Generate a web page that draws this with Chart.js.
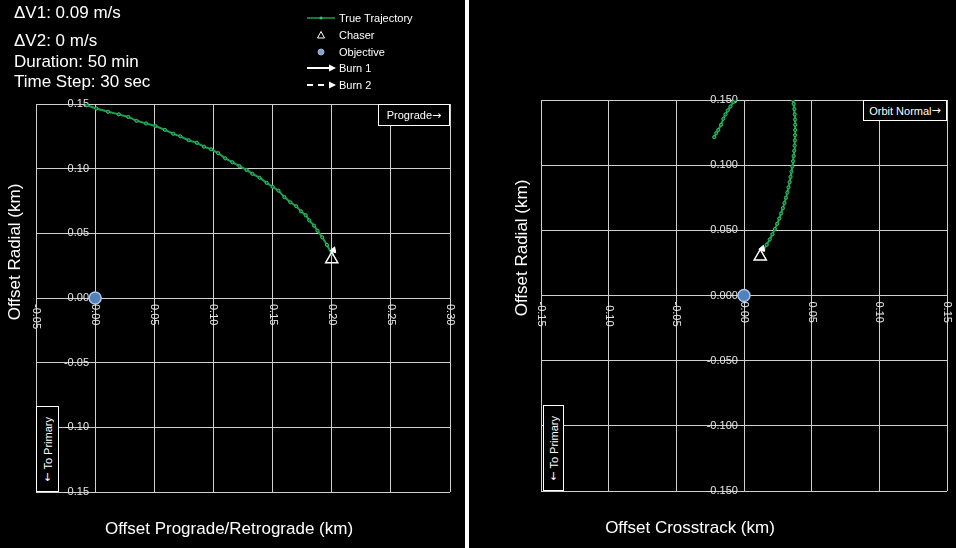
<!DOCTYPE html>
<html>
<head>
<meta charset="utf-8">
<script src="https://cdn.jsdelivr.net/npm/chart.js@4"></script>
<style>
  body { margin: 0; background: #000; width: 956px; height: 548px; overflow: hidden; position: relative; font-family: Arial, "Liberation Sans", sans-serif; color: #fff; }
  canvas { position: absolute; top: 0; }
  .txt { position: absolute; white-space: nowrap; }
  .info { font-size: 17px; line-height: 20px; left: 14px; }
  .leg { font-size: 11px; line-height: 14px; left: 339px; }
  .box { position: absolute; border: 1px solid #fff; background: #000; font-size: 11px; display: flex; align-items: center; justify-content: center; box-sizing: border-box; }
  .vert { writing-mode: vertical-rl; transform: rotate(180deg); }
  .arr { font-family: "DejaVu Sans", sans-serif; font-size: 11px; }
  .title { font-size: 17px; line-height: 20px; text-align: center; width: 300px; height: 20px; }
  #sep { position: absolute; left: 465px; top: 0; width: 4px; height: 548px; background: #fff; }
</style>
</head>
<body>
<canvas id="leftChart" width="462" height="548" style="left:0"></canvas>
<canvas id="rightChart" width="486" height="548" style="left:470px"></canvas>
<div id="sep"></div>

<div class="txt info" style="top:3px">ΔV1: 0.09 m/s</div>
<div class="txt info" style="top:31px">ΔV2: 0 m/s</div>
<div class="txt info" style="top:52px">Duration: 50 min</div>
<div class="txt info" style="top:72px">Time Step: 30 sec</div>

<svg style="position:absolute;left:305px;top:10px" width="34" height="85">
  <line x1="2" y1="8" x2="30" y2="8" stroke="#1e9e4e" stroke-width="1.5"/>
  <circle cx="16" cy="8" r="1.5" fill="#2ecc71"/>
  <polygon points="16,21.5 19.5,28 12.5,28" fill="none" stroke="#fff" stroke-width="1"/>
  <circle cx="16" cy="42" r="3" fill="#7f9fd0" stroke="#b8cbe8" stroke-width="0.8"/>
  <line x1="2" y1="58" x2="25" y2="58" stroke="#fff" stroke-width="2"/>
  <polygon points="24,54.5 31,58 24,61.5" fill="#fff"/>
  <line x1="2" y1="75" x2="22" y2="75" stroke="#fff" stroke-width="2" stroke-dasharray="6,5"/>
  <polygon points="24,71.5 31,75 24,78.5" fill="#fff"/>
</svg>
<div class="txt leg" style="top:11px">True Trajectory</div>
<div class="txt leg" style="top:28px">Chaser</div>
<div class="txt leg" style="top:45px">Objective</div>
<div class="txt leg" style="top:61px">Burn 1</div>
<div class="txt leg" style="top:78px">Burn 2</div>

<div class="box" style="left:378px;top:104px;width:72px;height:22px">Prograde<span class="arr">→</span></div>
<div class="box" style="left:863px;top:100px;width:84px;height:21px">Orbit Normal<span class="arr">→</span></div>
<div class="box" style="left:36px;top:406px;width:23px;height:86px"><span class="vert"><span class="arr">←</span> To Primary</span></div>
<div class="box" style="left:543px;top:405px;width:21px;height:86px"><span class="vert"><span class="arr">←</span> To Primary</span></div>

<div class="txt title" style="left:-135px;top:242px;transform:rotate(-90deg)">Offset Radial (km)</div>
<div class="txt title" style="left:372px;top:238px;transform:rotate(-90deg)">Offset Radial (km)</div>
<div class="txt title" style="left:79px;top:519px">Offset Prograde/Retrograde (km)</div>
<div class="txt title" style="left:540px;top:518px">Offset Crosstrack (km)</div>

<script>
// left plot: prograde/retrograde vs radial (km)
const leftX = [0.200, 0.196, 0.192, 0.188, 0.185, 0.181, 0.178, 0.174, 0.170, 0.165, 0.160, 0.155,
               0.150, 0.145, 0.139, 0.133, 0.128, 0.122, 0.116, 0.110, 0.104, 0.098, 0.092, 0.086,
               0.079, 0.072, 0.066, 0.059, 0.051, 0.043, 0.035, 0.028, 0.020, 0.011, 0.001, -0.007];
const leftY = [0.034, 0.041, 0.047, 0.052, 0.056, 0.060, 0.064, 0.067, 0.071, 0.074, 0.078, 0.083,
               0.086, 0.089, 0.093, 0.096, 0.099, 0.102, 0.105, 0.108, 0.112, 0.115, 0.117, 0.120,
               0.122, 0.125, 0.127, 0.130, 0.133, 0.135, 0.137, 0.140, 0.142, 0.144, 0.1465, 0.149];

// right plot: crosstrack vs radial (km), two visible pieces
const rightX = [0.0143, 0.0168, 0.0190, 0.0210, 0.0228, 0.0245, 0.0260, 0.0274, 0.0287, 0.0299,
                0.0310, 0.0320, 0.0329, 0.0337, 0.0344, 0.0351, 0.0357, 0.0362, 0.0367, 0.0371,
                0.0374, 0.0376, 0.0377, 0.0378, 0.0378, 0.0377, 0.0375, 0.0372, 0.0367, 0.0362];
const rightY = [0.035, 0.039, 0.043, 0.047, 0.051, 0.055, 0.059, 0.063, 0.067, 0.071,
                0.075, 0.079, 0.083, 0.087, 0.091, 0.095, 0.099, 0.103, 0.107, 0.111,
                0.115, 0.119, 0.123, 0.127, 0.131, 0.135, 0.139, 0.143, 0.147, 0.150];
const tailX = [-0.022, -0.0205, -0.019, -0.017, -0.0153, -0.0137, -0.012, -0.010, -0.0079, -0.0065];
const tailY = [0.1215, 0.1245, 0.127, 0.131, 0.1356, 0.139, 0.142, 0.145, 0.1484, 0.150];

const chaserLeft = [0.200, 0.030];
const chaserRight = [0.012, 0.030];
const burnLeft = [0.2015, 0.037];
const burnRight = [0.0135, 0.036];
const objective = [0, 0];

const leftXRange = [-0.05, 0.30];
const rightXRange = [-0.15, 0.15];
const yRange = [-0.15, 0.15];
const tickStep = 0.05;

const gridColor = "#cfcfcf";
const tickColor = "#e6e6e6";

function pts(xs, ys) {
    return xs.map((x, i) => ({ x: x, y: ys[i] }));
}

function fmt(v, d) {
    if (Math.abs(v) < 1e-9) v = 0;
    return v.toFixed(d);
}

// x tick labels turned clockwise, drawn under the zero line
const xLabels = {
    id: "xLabels",
    afterDraw(chart) {
        const xs = chart.scales.x;
        const ys = chart.scales.y;
        const ctx = chart.ctx;
        const y0 = ys.getPixelForValue(0);
        ctx.save();
        ctx.font = "11px Arial";
        ctx.fillStyle = tickColor;
        ctx.textAlign = "left";
        ctx.textBaseline = "middle";
        for (const t of xs.ticks) {
            const px = xs.getPixelForValue(t.value);
            ctx.save();
            ctx.translate(px, y0 + 6);
            ctx.rotate(Math.PI / 2);
            ctx.fillText(fmt(t.value, 2), 0, 0);
            ctx.restore();
        }
        ctx.restore();
    }
};

function makeChart(id, xRange, yDec, traj, chaser, burn, padding) {
    const datasets = [
        {
            data: [{ x: objective[0], y: objective[1] }],
            pointRadius: 6,
            pointBackgroundColor: "#4f81bd",
            pointBorderColor: "#a9c4ea",
            pointBorderWidth: 1.5
        },
        {
            data: [{ x: chaser[0], y: chaser[1] }],
            pointStyle: "triangle",
            pointRadius: 7,
            pointBackgroundColor: "rgba(0,0,0,0)",
            pointBorderColor: "#fff",
            pointBorderWidth: 1.5
        },
        {
            data: [{ x: burn[0], y: burn[1] }],
            pointStyle: "triangle",
            pointRadius: 3.5,
            rotation: 20,
            pointBackgroundColor: "#fff",
            pointBorderColor: "#fff",
            pointBorderWidth: 1
        }
    ];
    for (const seg of traj) {
        datasets.push({
            data: seg,
            showLine: true,
            borderColor: "#1e9e4e",
            borderWidth: 2,
            pointRadius: 1.6,
            pointBackgroundColor: "#0b5e2a",
            pointBorderColor: "#2fc468",
            pointBorderWidth: 1
        });
    }
    return new Chart(id, {
        type: "scatter",
        data: { datasets: datasets },
        options: {
            responsive: false,
            animation: false,
            devicePixelRatio: 1,
            layout: { padding: padding },
            plugins: { legend: { display: false }, tooltip: { enabled: false } },
            scales: {
                x: {
                    type: "linear",
                    min: xRange[0],
                    max: xRange[1],
                    position: { y: 0 },
                    ticks: { stepSize: tickStep, display: false },
                    grid: { color: gridColor, drawTicks: false },
                    border: { color: gridColor }
                },
                y: {
                    type: "linear",
                    min: yRange[0],
                    max: yRange[1],
                    position: { x: 0 },
                    ticks: {
                        stepSize: tickStep,
                        color: tickColor,
                        font: { family: "Arial", size: 11 },
                        // labels sit on the zero line, spaces keep them off it
                        callback: v => fmt(v, yDec) + "  "
                    },
                    grid: { color: gridColor, drawTicks: false },
                    border: { color: gridColor }
                }
            }
        },
        plugins: [xLabels]
    });
}

makeChart("leftChart", leftXRange, 2, [pts(leftX, leftY)], chaserLeft, burnLeft,
    { left: 36, right: 12, top: 104, bottom: 56 });
makeChart("rightChart", rightXRange, 3, [pts(rightX, rightY), pts(tailX, tailY)], chaserRight, burnRight,
    { left: 71, right: 9, top: 100, bottom: 57 });
</script>
</body>
</html>
